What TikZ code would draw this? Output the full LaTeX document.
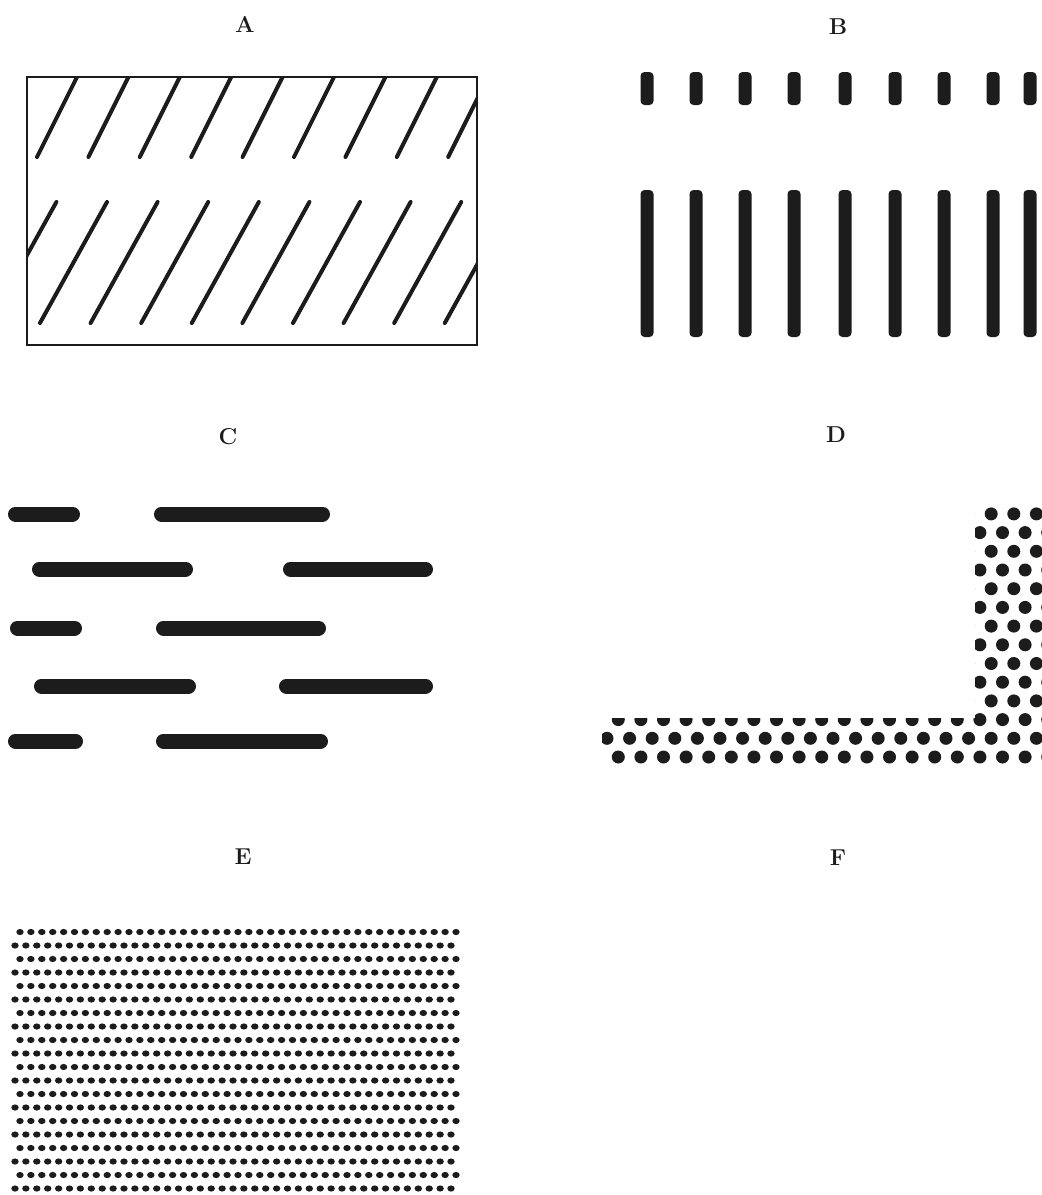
\documentclass[tikz,border=0pt]{standalone}
\usepackage{xcolor}
\definecolor{ink}{HTML}{1C1C1C}

\begin{document}
\begin{tikzpicture}[x=1pt, y=-1pt]
        \tikzset{panel label/.style = {font=\fontsize{23}{27}\selectfont\bfseries, text=ink, inner sep=0pt},
                 frame/.style = {draw=ink, line width=2.4pt},
                 hatch/.style = {draw=ink, line width=4pt, line cap=round},
                 strip/.style = {fill=ink, rounded corners=4pt},
                 dash bar/.style = {draw=ink, line width=15pt, line cap=round}}

        \useasboundingbox (0,0) rectangle (1042,1195);

        \node[panel label] (labA) at (245, 24) {A};
        \node[panel label] (labB) at (838, 27) {B};
        \node[panel label] (labC) at (228, 437) {C};
        \node[panel label] (labD) at (836, 435) {D};
        \node[panel label] (labE) at (243, 857) {E};
        \node[panel label] (labF) at (838, 858) {F};

        % A: hatched box
        \draw[frame] (27, 77) rectangle (477, 345);
        \begin{scope}
            \clip (27, 77) rectangle (477, 345);
            \foreach \k in {0,...,8}
                \draw[hatch] ({37+51.4*\k}, 157) -- ++(40, -80);
            \foreach \k in {-1,...,8}
                \draw[hatch] ({40+50.6*\k}, 323) -- ++(67, -121);
        \end{scope}

        % B: upright bars
        \foreach \x in {647, 696, 745, 794, 845, 895, 944, 993, 1030} {
            \fill[strip] (\x-6.5, 72) rectangle (\x+6.5, 105);
            \fill[strip] (\x-6.5, 190) rectangle (\x+6.5, 337);
        }

        % C: broken lines
        \foreach \xa/\xb/\y in {15.5/72.5/514, 161.5/322.5/514,
                                39.5/185.5/569, 290.5/425.5/569,
                                17.5/74.5/628, 163.5/318.5/628,
                                41.5/188.5/686, 286.5/425.5/686,
                                15.5/75.5/741, 163.5/320.5/741}
            \draw[dash bar] (\xa, \y) -- (\xb, \y);

        % D: dotted corner
        \begin{scope}
            \clip (975, 507) rectangle (1042, 767) (602, 718) rectangle (1042, 767);
            \foreach \m in {0,...,13}
                \foreach \i in {0,...,19}
                    \fill[ink] ({618.3+22.6*\i-11.3*mod(\m,2)}, {757-18.7*\m}) circle (6.5);
        \end{scope}

        % E: fine dots
        \foreach \r in {0,...,19}
            \foreach \c in {0,...,40}
                \fill[ink] ({20-5*mod(\r,2)+10.9*\c}, {932+13.5*\r}) ellipse (3.7 and 3.1);

    \end{tikzpicture}
\end{document}
